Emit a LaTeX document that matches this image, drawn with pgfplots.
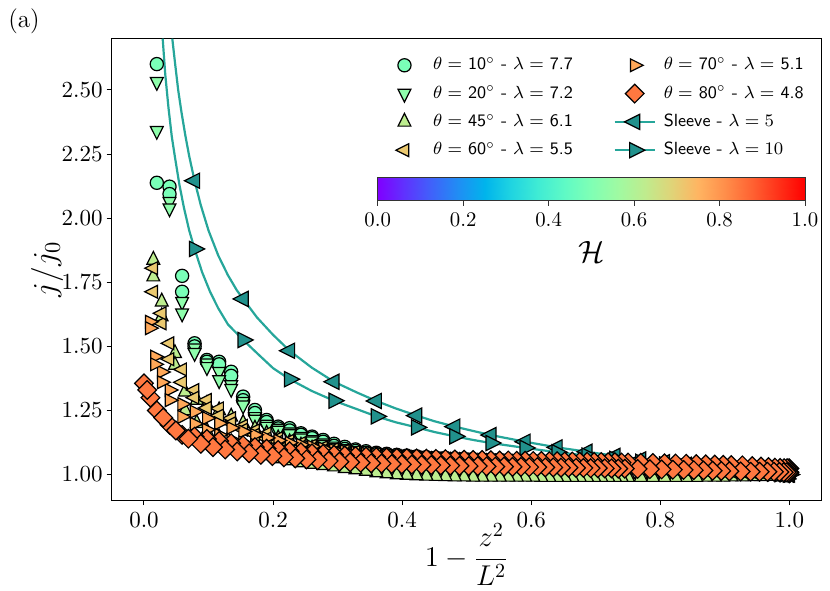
\RequirePackage{fix-cm}
\documentclass[border=0pt]{standalone}
\usepackage{pgfplots}
\pgfplotsset{compat=1.18}
\usepackage{pgfplotstable}
\definecolor{c10}{rgb}{0.48,1,0.72}
\definecolor{c20}{rgb}{0.56,0.996,0.673}
\definecolor{c45}{rgb}{0.74,0.93,0.56}
\definecolor{c60}{rgb}{0.92,0.79,0.44}
\definecolor{c70}{rgb}{1,0.66,0.35}
\definecolor{c80}{rgb}{1,0.47,0.25}
\definecolor{sfill}{HTML}{21918C}
\definecolor{sline}{HTML}{26A69A}
\pgfplotsset{colormap={mplrainbow}{rgb=(0.5,0,1) rgb=(0.375,0.1951,0.9952) rgb=(0.25,0.3827,0.9808) rgb=(0.125,0.5556,0.9569) rgb=(0,0.7071,0.9239) rgb=(0.125,0.8315,0.8819) rgb=(0.25,0.9239,0.8315) rgb=(0.375,0.9808,0.7730) rgb=(0.5,1,0.7071) rgb=(0.625,0.9808,0.6344) rgb=(0.75,0.9239,0.5556) rgb=(0.875,0.8315,0.4714) rgb=(1,0.7071,0.3827) rgb=(1,0.5556,0.2903) rgb=(1,0.3827,0.1951) rgb=(1,0.1951,0.0980) rgb=(1,0,0)}}
\pgfplotsset{
 s10/.style={only marks, draw=black, fill=c10, mark=*, mark size=3.3pt, line width=0.6pt},
 s20/.style={only marks, draw=black, fill=c20, mark=triangle*, mark size=3.7pt, mark options={rotate=180, yscale=1.15}, line width=0.6pt},
 s45/.style={only marks, draw=black, fill=c45, mark=triangle*, mark size=3.7pt, mark options={yscale=1.15}, line width=0.6pt},
 s60/.style={only marks, draw=black, fill=c60, mark=triangle*, mark size=3.7pt, mark options={rotate=90, yscale=1.15}, line width=0.6pt},
 s70/.style={only marks, draw=black, fill=c70, mark=triangle*, mark size=3.7pt, mark options={rotate=-90, yscale=1.15}, line width=0.6pt},
 s80/.style={only marks, draw=black, fill=c80, mark=square*, mark size=3.3pt, mark options={rotate=45}, line width=0.6pt},
 sl5/.style={only marks, draw=black, fill=sfill, mark=triangle*, mark size=4.4pt, mark options={rotate=90, yscale=1.15}, line width=0.6pt},
 sl10/.style={only marks, draw=black, fill=sfill, mark=triangle*, mark size=4.4pt, mark options={rotate=-90, yscale=1.15}, line width=0.6pt},
}
\pgfplotstableread{
x a b
1.0 1.006 1.004
0.9991 1.007 1.005
0.9964 1.008 1.006
0.9919 1.009 1.007
0.9856 1.011 1.008
0.9775 1.013 1.010
0.9676 1.015 1.012
0.9559 1.017 1.014
0.9424 1.019 1.016
0.9271 1.021 1.018
0.91 1.023 1.020
0.8976 1.025 1.021
0.8844 1.026 1.023
0.8704 1.028 1.024
0.8556 1.029 1.025
0.84 1.031 1.027
0.8236 1.032 1.028
0.8064 1.034 1.030
0.7884 1.035 1.031
0.7696 1.037 1.033
0.75 1.039 1.034
0.7399 1.040 1.035
0.7296 1.041 1.036
0.7191 1.042 1.037
0.7084 1.043 1.038
0.6975 1.044 1.039
0.6864 1.045 1.040
0.6751 1.046 1.041
0.6636 1.047 1.042
0.6519 1.048 1.043
0.64 1.049 1.044
0.6279 1.050 1.045
0.6156 1.051 1.046
0.6031 1.052 1.047
0.5904 1.053 1.048
0.5775 1.054 1.049
0.5644 1.055 1.050
0.5511 1.057 1.051
0.5376 1.058 1.052
0.5239 1.059 1.053
0.51 1.060 1.055
0.4959 1.062 1.056
0.4816 1.063 1.057
0.4671 1.065 1.059
0.4524 1.066 1.060
0.4375 1.068 1.062
0.4224 1.071 1.066
0.4071 1.074 1.069
0.3916 1.077 1.072
0.3759 1.081 1.076
0.36 1.085 1.080
0.3439 1.091 1.085
0.3276 1.098 1.092
0.3111 1.108 1.100
0.2944 1.120 1.112
0.2775 1.135 1.128
0.2604 1.148 1.142
0.2431 1.161 1.155
0.2256 1.181 1.172
0.2079 1.187 1.180
0.19 1.213 1.205
0.1719 1.252 1.240
0.1536 1.304 1.290
0.1351 1.401 1.385
0.1164 1.440 1.430
0.0975 1.447 1.440
0.0784 1.512 1.500
0.0591 1.775 1.713
0.0396 2.123 2.094
0.0199 2.601 2.138
}\tabten
\pgfplotstableread{
x a b
1.0 1.005 1.003
0.9991 1.006 1.004
0.9964 1.007 1.005
0.9919 1.008 1.006
0.9856 1.010 1.007
0.9775 1.012 1.009
0.9676 1.014 1.011
0.9559 1.016 1.013
0.9424 1.018 1.015
0.9271 1.020 1.017
0.91 1.022 1.019
0.8976 1.023 1.020
0.8844 1.025 1.022
0.8704 1.026 1.023
0.8556 1.028 1.024
0.84 1.029 1.026
0.8236 1.031 1.027
0.8064 1.032 1.029
0.7884 1.034 1.030
0.7696 1.035 1.032
0.75 1.037 1.033
0.7399 1.038 1.034
0.7296 1.039 1.035
0.7191 1.040 1.036
0.7084 1.041 1.037
0.6975 1.042 1.038
0.6864 1.043 1.039
0.6751 1.044 1.040
0.6636 1.045 1.041
0.6519 1.046 1.042
0.64 1.047 1.043
0.6279 1.048 1.044
0.6156 1.049 1.045
0.6031 1.050 1.046
0.5904 1.051 1.047
0.5775 1.052 1.048
0.5644 1.053 1.049
0.5511 1.055 1.050
0.5376 1.056 1.051
0.5239 1.057 1.052
0.51 1.058 1.053
0.4959 1.060 1.054
0.4816 1.061 1.055
0.4671 1.063 1.057
0.4524 1.064 1.058
0.4375 1.066 1.060
0.4224 1.068 1.063
0.4071 1.071 1.066
0.3916 1.074 1.069
0.3759 1.077 1.072
0.36 1.081 1.076
0.3439 1.085 1.080
0.3276 1.092 1.087
0.3111 1.100 1.095
0.2944 1.110 1.105
0.2775 1.122 1.116
0.2604 1.135 1.130
0.2431 1.148 1.142
0.2256 1.165 1.158
0.2079 1.180 1.172
0.19 1.195 1.187
0.1719 1.225 1.215
0.1536 1.284 1.270
0.1351 1.349 1.335
0.1164 1.401 1.369
0.0975 1.434 1.420
0.0784 1.493 1.475
0.0591 1.674 1.629
0.0396 2.064 2.039
0.0199 2.532 2.341
}\tabtwenty
\pgfplotstableread{
x a b
1.0 1.001 1.000
0.9991 1.001 0.999
0.9964 1.000 0.998
0.9919 1.000 0.997
0.9856 1.000 0.996
0.9775 0.999 0.995
0.9676 0.999 0.994
0.9559 0.999 0.993
0.9424 0.999 0.993
0.9271 0.999 0.992
0.91 0.999 0.992
0.8976 0.999 0.991
0.8844 0.999 0.991
0.8704 1.000 0.991
0.8556 1.000 0.990
0.84 1.000 0.990
0.8236 1.000 0.990
0.8064 1.000 0.990
0.7884 1.001 0.990
0.7696 1.001 0.990
0.75 1.002 0.990
0.7399 1.002 0.990
0.7296 1.003 0.990
0.7191 1.003 0.990
0.7084 1.004 0.990
0.6975 1.004 0.990
0.6864 1.005 0.990
0.6751 1.005 0.990
0.6636 1.006 0.990
0.6519 1.006 0.990
0.64 1.007 0.990
0.6279 1.008 0.990
0.6156 1.009 0.990
0.6031 1.010 0.991
0.5904 1.011 0.991
0.5775 1.012 0.991
0.5644 1.013 0.991
0.5511 1.014 0.991
0.5376 1.016 0.991
0.5239 1.017 0.991
0.51 1.019 0.991
0.4959 1.021 0.992
0.4816 1.023 0.992
0.4671 1.025 0.993
0.4524 1.028 0.994
0.4375 1.031 0.995
0.4224 1.034 0.996
0.4071 1.038 0.998
0.3916 1.042 1.000
0.3759 1.047 1.004
0.36 1.052 1.008
0.3439 1.058 1.014
0.3276 1.065 1.020
0.3111 1.072 1.025
0.2944 1.080 1.031
0.2775 1.090 1.036
0.2604 1.100 1.041
0.2431 1.112 1.047
0.2256 1.125 1.055
0.2079 1.140 1.063
0.19 1.158 1.075
0.1719 1.178 1.089
0.1536 1.200 1.104
0.1351 1.225 1.122
0.1164 1.250 1.145
0.0975 1.275 1.170
0.0818 1.291 1.200
0.0636 1.323 1.250
0.048 1.473 1.427
0.0275 1.674 1.616
0.0145 1.837 1.772
}\tabfortyfive
\pgfplotstableread{
x a b
1.0 1.004 1.001
0.9991 1.005 1.002
0.9964 1.006 1.003
0.9919 1.007 1.004
0.9856 1.009 1.005
0.9775 1.010 1.006
0.9676 1.012 1.007
0.9559 1.014 1.009
0.9424 1.016 1.010
0.9271 1.018 1.012
0.91 1.020 1.013
0.8976 1.021 1.014
0.8844 1.022 1.015
0.8704 1.024 1.017
0.8556 1.025 1.018
0.84 1.026 1.019
0.8236 1.028 1.020
0.8064 1.029 1.021
0.7884 1.030 1.022
0.7696 1.032 1.024
0.75 1.033 1.025
0.7399 1.034 1.026
0.7296 1.035 1.027
0.7191 1.036 1.027
0.7084 1.036 1.028
0.6975 1.037 1.029
0.6864 1.038 1.030
0.6751 1.039 1.031
0.6636 1.040 1.032
0.6519 1.041 1.033
0.64 1.042 1.034
0.6279 1.043 1.035
0.6156 1.044 1.036
0.6031 1.045 1.037
0.5904 1.046 1.038
0.5775 1.047 1.039
0.5644 1.048 1.040
0.5511 1.049 1.041
0.5376 1.050 1.042
0.5239 1.051 1.043
0.51 1.052 1.045
0.4959 1.054 1.046
0.4816 1.056 1.048
0.4671 1.058 1.049
0.4524 1.061 1.051
0.4375 1.063 1.053
0.4224 1.066 1.055
0.4071 1.069 1.058
0.3916 1.072 1.060
0.3759 1.075 1.063
0.36 1.079 1.066
0.3439 1.083 1.070
0.3276 1.088 1.075
0.3111 1.093 1.080
0.2944 1.099 1.086
0.2775 1.106 1.093
0.2604 1.113 1.100
0.2431 1.122 1.108
0.2256 1.132 1.118
0.2079 1.142 1.128
0.19 1.160 1.140
0.1719 1.172 1.155
0.1536 1.190 1.175
0.1351 1.220 1.200
0.1164 1.258 1.230
0.0975 1.291 1.260
0.0784 1.330 1.300
0.0591 1.410 1.360
0.0396 1.512 1.450
0.0275 1.590 1.629
0.0145 1.805 1.713
}\tabsixty
\pgfplotstableread{
x a b
1.0 1.012 1.006
0.9991 1.013 1.007
0.9964 1.013 1.007
0.9919 1.014 1.008
0.9856 1.015 1.008
0.9775 1.016 1.009
0.9676 1.017 1.010
0.9559 1.018 1.011
0.9424 1.020 1.012
0.9271 1.022 1.013
0.91 1.024 1.015
0.8976 1.025 1.016
0.8844 1.027 1.017
0.8704 1.028 1.018
0.8556 1.030 1.019
0.84 1.031 1.020
0.8236 1.033 1.021
0.8064 1.034 1.022
0.7884 1.036 1.023
0.7696 1.037 1.024
0.75 1.039 1.025
0.7399 1.040 1.026
0.7296 1.041 1.026
0.7191 1.042 1.027
0.7084 1.043 1.028
0.6975 1.044 1.028
0.6864 1.045 1.029
0.6751 1.046 1.030
0.6636 1.047 1.031
0.6519 1.048 1.031
0.64 1.049 1.032
0.6279 1.050 1.033
0.6156 1.051 1.034
0.6031 1.052 1.035
0.5904 1.053 1.036
0.5775 1.054 1.037
0.5644 1.055 1.038
0.5511 1.056 1.039
0.5376 1.057 1.040
0.5239 1.058 1.041
0.51 1.059 1.042
0.4959 1.061 1.043
0.4816 1.062 1.044
0.4671 1.063 1.046
0.4524 1.065 1.047
0.4375 1.066 1.048
0.4224 1.068 1.050
0.4071 1.070 1.051
0.3916 1.072 1.053
0.3759 1.075 1.055
0.36 1.078 1.057
0.3439 1.082 1.059
0.3276 1.086 1.062
0.3111 1.091 1.066
0.2944 1.096 1.070
0.2775 1.102 1.075
0.2604 1.109 1.080
0.2431 1.116 1.085
0.2256 1.124 1.092
0.2079 1.133 1.100
0.19 1.143 1.108
0.1719 1.155 1.116
0.1536 1.168 1.125
0.1351 1.182 1.137
0.1164 1.200 1.155
0.0975 1.220 1.175
0.0784 1.245 1.198
0.0591 1.275 1.225
0.0396 1.330 1.290
0.0275 1.400 1.360
0.017 1.460 1.430
0.009 1.596 1.571
}\tabseventy
\pgfplotstableread{
x a xb b
1.0 1.024 1.0 1.008
0.9991 1.024 0.9988 1.008
0.9964 1.025 0.9958 1.009
0.9919 1.025 0.9910 1.009
0.9856 1.026 0.9844 1.010
0.9775 1.027 0.9760 1.011
0.9676 1.029 0.9658 1.011
0.9559 1.031 0.9538 1.011
0.9424 1.033 0.9400 1.011
0.9271 1.036 0.9244 1.012
0.91 1.037 0.9070 1.013
0.8976 1.038 0.8944 1.014
0.8844 1.039 0.8810 1.015
0.8704 1.040 0.8668 1.016
0.8556 1.041 0.8518 1.017
0.84 1.042 0.8360 1.018
0.8236 1.043 0.8194 1.019
0.8064 1.044 0.8020 1.020
0.7884 1.045 0.7838 1.021
0.7696 1.046 0.7648 1.022
0.75 1.047 0.7450 1.023
0.7399 1.047 0.7348 1.023
0.7296 1.048 0.7244 1.024
0.7191 1.048 0.7138 1.024
0.7084 1.049 0.7030 1.025
0.6975 1.049 0.6920 1.025
0.6864 1.050 0.6808 1.026
0.6751 1.050 0.6694 1.026
0.6636 1.051 0.6578 1.027
0.6519 1.051 0.6460 1.027
0.64 1.052 0.6340 1.028
0.6279 1.052 0.6218 1.028
0.6156 1.053 0.6094 1.029
0.6031 1.053 0.5968 1.029
0.5904 1.054 0.5840 1.030
0.5775 1.054 0.5710 1.030
0.5644 1.055 0.5578 1.031
0.5511 1.055 0.5444 1.031
0.5376 1.056 0.5308 1.032
0.5239 1.057 0.5170 1.033
0.51 1.057 0.5030 1.033
0.4959 1.058 0.4888 1.034
0.4816 1.059 0.4744 1.035
0.4671 1.060 0.4598 1.036
0.4524 1.061 0.4450 1.037
0.4375 1.062 0.4300 1.038
0.4224 1.063 0.4148 1.039
0.4071 1.064 0.3994 1.040
0.3916 1.065 0.3838 1.041
0.3759 1.067 0.3680 1.043
0.36 1.068 0.3520 1.044
0.3439 1.070 0.3358 1.046
0.3276 1.072 0.3194 1.048
0.3111 1.074 0.3028 1.050
0.2944 1.077 0.2860 1.053
0.2775 1.080 0.2690 1.056
0.2604 1.083 0.2518 1.059
0.2431 1.087 0.2344 1.063
0.2256 1.091 0.2168 1.067
0.2079 1.096 0.1990 1.072
0.19 1.101 0.1810 1.077
0.1719 1.107 0.1628 1.083
0.1536 1.114 0.1444 1.090
0.1351 1.122 0.1258 1.098
0.1164 1.131 0.1070 1.107
0.0975 1.139 0.0880 1.120
0.0784 1.148 0.0688 1.140
0.0591 1.155 0.0494 1.172
0.0396 1.194 0.0298 1.222
0.0199 1.250 0.0100 1.300
0.0 1.356 0.0050 1.330
}\tabeighty
\pgfplotstableread{
x l5 l10
0.0784 2.146 1.880
0.1536 1.685 1.525
0.2256 1.483 1.372
0.2944 1.362 1.288
0.36 1.287 1.227
0.4224 1.230 1.184
0.4816 1.187 1.149
0.5376 1.154 1.123
0.5904 1.128 1.104
0.64 1.106 1.087
0.6864 1.089 1.074
0.7296 1.073 1.061
0.7696 1.059 1.050
0.8064 1.048 1.040
0.84 1.038 1.032
0.8704 1.030 1.025
0.8976 1.023 1.019
0.9216 1.017 1.014
0.9424 1.012 1.010
0.96 1.008 1.007
0.9744 1.005 1.004
0.9856 1.003 1.002
0.9936 1.001 1.001
0.9984 1.000 1.000
1.0 1.000 1.000
}\sleevemarks
\pgfplotstableread{
x y
0.0439 2.700
0.048 2.608
0.053 2.500
0.058 2.415
0.064 2.324
0.070 2.243
0.0784 2.146
0.088 2.051
0.100 1.952
0.115 1.855
0.130 1.778
0.1438 1.719
0.1536 1.685
0.175 1.613
0.200 1.545
0.2256 1.483
0.260 1.417
0.2944 1.362
0.330 1.320
0.36 1.287
0.39 1.258
0.4224 1.230
0.45 1.208
0.4816 1.187
0.51 1.170
0.5376 1.154
0.5904 1.128
0.64 1.106
0.6864 1.089
0.7296 1.073
0.7696 1.059
0.8064 1.048
0.84 1.038
0.8704 1.030
0.8976 1.023
0.9216 1.017
0.9424 1.012
0.96 1.008
0.9744 1.005
0.9856 1.003
1.0 1.000
}\lineA
\pgfplotstableread{
x y
0.029 2.700
0.033 2.560
0.038 2.430
0.043 2.320
0.048 2.238
0.055 2.129
0.062 2.040
0.070 1.953
0.0784 1.880
0.090 1.790
0.1024 1.713
0.115 1.649
0.130 1.586
0.1536 1.525
0.18 1.462
0.20 1.415
0.2256 1.372
0.26 1.326
0.2944 1.288
0.33 1.255
0.36 1.227
0.39 1.204
0.4224 1.184
0.45 1.166
0.4816 1.149
0.51 1.135
0.5376 1.123
0.5904 1.104
0.64 1.087
0.6864 1.074
0.7296 1.061
0.7696 1.050
0.8064 1.040
0.84 1.032
0.8704 1.025
0.8976 1.019
0.9216 1.014
0.9424 1.010
0.96 1.007
0.9744 1.004
0.9856 1.002
1.0 1.000
}\lineB
\begin{document}
\begin{tikzpicture}
\useasboundingbox (-55.85pt,-44.9pt) rectangle (359.15pt,250.1pt);
\begin{axis}[
  at={(0pt,0pt)}, anchor=south west,
  scale only axis, width=355pt, height=230.75pt,
  xmin=-0.05, xmax=1.05, ymin=0.9, ymax=2.7,
  xtick={0,0.2,0.4,0.6,0.8,1.0},
  ytick={1,1.25,1.5,1.75,2,2.25,2.5},
  scaled ticks=false,
  xticklabel style={/pgf/number format/.cd,fixed,fixed zerofill,precision=1},
  yticklabel style={xshift=1.5pt,/pgf/number format/.cd,fixed,fixed zerofill,precision=2},
  tick label style={font=\fontsize{11.5}{13}\selectfont},
  tick align=outside, xtick pos=left, ytick pos=left,
  major tick length=2.5pt,
  every tick/.style={black, line width=0.5pt},
  axis line style={line width=0.55pt},
  xlabel={$1-{\displaystyle\frac{z^2}{L^2}}$}, ylabel={$j/j_0$},
  xlabel style={font=\fontsize{14.3}{17}\selectfont, at={(axis description cs:0.5,-0.118)}, anchor=center},
  ylabel style={font=\fontsize{16}{19}\selectfont, at={(axis description cs:-0.091,0.5)}, anchor=center},
  legend columns=2,
  legend cell align=left,
  legend image code/.code={\path (0pt,-3pt) (20pt,3pt);\draw[mark repeat=2,mark phase=2,#1] plot coordinates {(0pt,0pt) (10pt,0pt) (20pt,0pt)};},
  legend style={at={(axis description cs:0.978,0.966)}, anchor=north east, draw=none, fill=none, inner sep=0pt,
    font=\fontsize{8.8}{10.5}\selectfont\sffamily,
    nodes={inner sep=1pt, text height=6.5pt, text depth=2pt},
    row sep=3.65pt,
    /tikz/every odd column/.append style={column sep=3pt},
    /tikz/every even column/.append style={column sep=19.3pt}},
]
\addplot[sline, line width=1.1pt, forget plot] table[x=x,y=y]{\lineA};
\addplot[sline, line width=1.1pt, forget plot] table[x=x,y=y]{\lineB};
\addplot[sl5, forget plot] table[x=x,y=l5]{\sleevemarks};
\addplot[sl10, forget plot] table[x=x,y=l10]{\sleevemarks};
\addplot[s10, forget plot] table[x=x,y=a]{\tabten};
\addplot[s10, forget plot] table[x=x,y=b]{\tabten};
\addplot[s20, forget plot] table[x=x,y=a]{\tabtwenty};
\addplot[s20, forget plot] table[x=x,y=b]{\tabtwenty};
\addplot[s45, forget plot] table[x=x,y=a]{\tabfortyfive};
\addplot[s45, forget plot] table[x=x,y=b]{\tabfortyfive};
\addplot[s60, forget plot] table[x=x,y=a]{\tabsixty};
\addplot[s60, forget plot] table[x=x,y=b]{\tabsixty};
\addplot[s70, forget plot] table[x=x,y=a]{\tabseventy};
\addplot[s70, forget plot] table[x=x,y=b]{\tabseventy};
\addplot[s80, forget plot] table[x=x,y=a]{\tabeighty};
\addplot[s80, forget plot] table[x=xb,y=b]{\tabeighty};
\addlegendimage{s10}\addlegendentry{$\theta=$ 10$^\circ$ - $\lambda=$ 7.7}
\addlegendimage{s70}\addlegendentry{$\theta=$ 70$^\circ$ - $\lambda=$ 5.1}
\addlegendimage{s20}\addlegendentry{$\theta=$ 20$^\circ$ - $\lambda=$ 7.2}
\addlegendimage{s80}\addlegendentry{$\theta=$ 80$^\circ$ - $\lambda=$ 4.8}
\addlegendimage{s45}\addlegendentry{$\theta=$ 45$^\circ$ - $\lambda=$ 6.1}
\addlegendimage{sline, line width=1.1pt, mark=triangle*, mark size=4.4pt, mark options={rotate=90, yscale=1.15, draw=black, fill=sfill, line width=0.6pt}}\addlegendentry{Sleeve - $\lambda=5$}
\addlegendimage{s60}\addlegendentry{$\theta=$ 60$^\circ$ - $\lambda=$ 5.5}
\addlegendimage{sline, line width=1.1pt, mark=triangle*, mark size=4.4pt, mark options={rotate=-90, yscale=1.15, draw=black, fill=sfill, line width=0.6pt}}\addlegendentry{Sleeve - $\lambda=10$}
\end{axis}
\begin{axis}[
  at={(133pt,149.75pt)}, anchor=south west,
  scale only axis, width=213.65pt, height=11.7pt,
  xmin=0, xmax=1, ymin=0, ymax=1,
  ytick=\empty,
  xtick={0,0.2,0.4,0.6,0.8,1},
  xticklabel style={font=\fontsize{10.4}{12}\selectfont, /pgf/number format/.cd, fixed, fixed zerofill, precision=1},
  tick align=outside, major tick length=2.5pt, xtick pos=left,
  every tick/.style={black!80, line width=0.5pt},
  axis line style={line width=0.5pt, black!80},
  axis on top,
  colormap name=mplrainbow,
  point meta min=0, point meta max=1,
  xlabel={$\mathcal{H}$},
  xlabel style={font=\fontsize{15.4}{18}\selectfont, at={(axis description cs:0.5,-2.18)}, anchor=center},
]
\addplot[surf, shader=interp, point meta=x] coordinates {
(0,0) (0.0625,0) (0.125,0) (0.1875,0) (0.25,0) (0.3125,0) (0.375,0) (0.4375,0) (0.5,0) (0.5625,0) (0.625,0) (0.6875,0) (0.75,0) (0.8125,0) (0.875,0) (0.9375,0) (1,0)

(0,1) (0.0625,1) (0.125,1) (0.1875,1) (0.25,1) (0.3125,1) (0.375,1) (0.4375,1) (0.5,1) (0.5625,1) (0.625,1) (0.6875,1) (0.75,1) (0.8125,1) (0.875,1) (0.9375,1) (1,1)
};
\end{axis}
\node[font=\fontsize{12.5}{15}\selectfont] at (-43.85pt,239.6pt) {(a)};
\end{tikzpicture}
\end{document}
